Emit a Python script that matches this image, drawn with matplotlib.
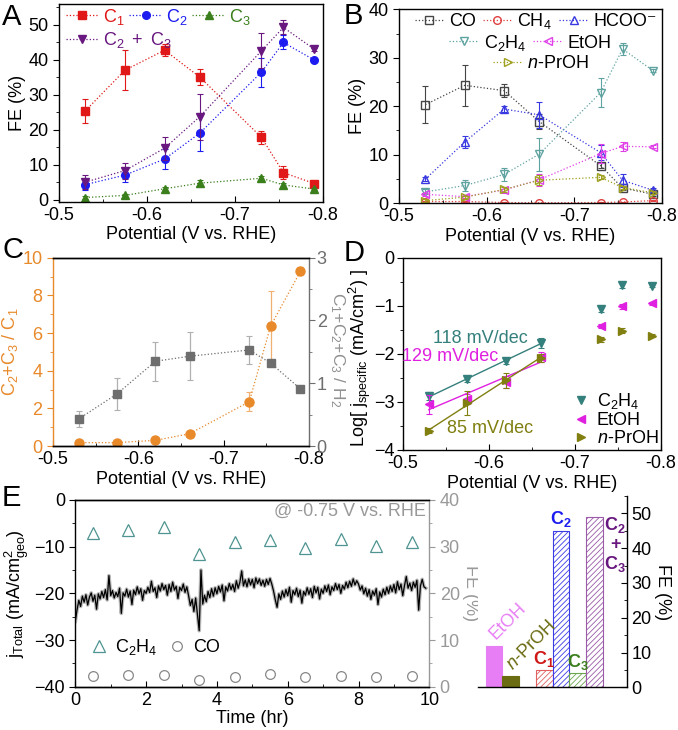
import numpy as np
import matplotlib
matplotlib.use("Agg")
import matplotlib.pyplot as plt
from matplotlib.ticker import MultipleLocator

plt.rcParams['font.family'] = ['Liberation Sans', 'DejaVu Sans']
plt.rcParams['mathtext.fontset'] = 'custom'
plt.rcParams['mathtext.rm'] = 'Liberation Sans'
plt.rcParams['mathtext.it'] = 'Liberation Sans:italic'
plt.rcParams['mathtext.bf'] = 'Liberation Sans:bold'
plt.rcParams['font.size'] = 13
plt.rcParams['xtick.direction'] = 'in'
plt.rcParams['ytick.direction'] = 'out'
plt.rcParams['xtick.major.size'] = 4
plt.rcParams['ytick.major.size'] = 4
plt.rcParams['xtick.minor.size'] = 2.5
plt.rcParams['ytick.minor.size'] = 2.5
plt.rcParams['hatch.linewidth'] = 0.6
plt.rcParams['axes.linewidth'] = 1.0

# ---- data ----
potential = [-0.53, -0.575, -0.62, -0.66, -0.73, -0.755, -0.79]

# panel A
fe_c1 = [25.5, 37.1, 42.8, 35.1, 17.9, 7.8, 4.7]
err_c1 = [3.4, 5.7, 1.8, 2.3, 1.9, 1.8, 0.4]
fe_c2 = [4.4, 7.1, 11.7, 19.1, 36.5, 45.0, 40.0]
err_c2 = [1.5, 2.0, 2.8, 5.2, 4.2, 2.0, 0.4]
fe_c3 = [0.7, 1.3, 3.2, 4.8, 6.2, 4.3, 3.1]
err_c3 = [0.4, 0.4, 0.6, 0.8, 0.7, 0.6, 0.3]
fe_c23 = [5.1, 8.4, 14.8, 23.8, 42.6, 49.3, 43.1]
err_c23 = [1.9, 2.3, 3.3, 6.6, 5.0, 2.0, 0.4]

# panel B
fe_co = [20.3, 24.3, 23.2, 16.8, 7.7, 3.1, 1.8]
err_co = [3.8, 4.3, 1.3, 1.5, 0.5, 0.4, 0.3]
fe_ch4 = [0.3, 0.3, 0.1, 0.05, 0.1, 0.2, 0.5]
err_ch4 = [0.1, 0.1, 0.05, 0.05, 0.05, 0.1, 0.1]
fe_hcoo = [4.9, 12.6, 19.4, 18.2, 10.4, 4.7, 2.6]
err_hcoo = [0.4, 1.2, 0.6, 2.7, 1.5, 1.3, 0.4]
fe_c2h4 = [2.3, 3.6, 5.9, 10.1, 22.8, 31.8, 27.3]
err_c2h4 = [0.5, 1.2, 1.3, 3.4, 3.0, 1.2, 0.3]
fe_etoh = [1.8, 1.3, 2.7, 4.8, 10.2, 11.7, 11.6]
err_etoh = [0.3, 0.4, 0.7, 1.2, 2.0, 1.0, 0.3]
fe_proh = [0.5, 1.2, 2.8, 4.7, 5.3, 3.2, 2.1]
err_proh = [0.3, 0.3, 0.6, 1.0, 0.4, 0.4, 0.3]

# panel C
ratio_c23_c1 = [0.18, 0.18, 0.3, 0.65, 2.35, 6.37, 9.28]
err_ratio_c23_c1 = [0.05, 0.05, 0.05, 0.1, 0.5, 1.85, 0.2]
ratio_c_h2 = [0.43, 0.83, 1.35, 1.43, 1.53, 1.32, 0.91]
err_ratio_c_h2 = [0.12, 0.26, 0.31, 0.38, 0.23, 0.05, 0.03]

# panel D
logj_c2h4 = [-2.88, -2.53, -2.15, -1.77, -1.07, -0.57, -0.58]
err_logj_c2h4 = [0.08, 0.05, 0.06, 0.1, 0.05, 0.05, 0.03]
logj_etoh = [-3.05, -2.94, -2.58, -2.06, -1.42, -1.01, -0.95]
err_logj_etoh = [0.2, 0.1, 0.12, 0.1, 0.05, 0.05, 0.03]
logj_proh = [-3.6, -3.03, -2.55, -2.08, -1.70, -1.52, -1.62]
err_logj_proh = [0.05, 0.25, 0.15, 0.08, 0.05, 0.05, 0.03]

# panel E: chronoamperometry at -0.75 V, sampled every 0.05 hr
dt_hr = 0.05
j_total = [
    -26.0, -23.5, -21.5, -22.8, -20.6, -21.9, -20.3, -22.5, -20.8, -19.9,
    -21.7, -20.4, -23.4, -20.1, -21.2, -19.6, -20.9, -19.2, -21.4, -16.2,
    -20.5, -19.4, -21.0, -19.8, -20.7, -18.9, -24.3, -19.9, -20.6, -19.1,
    -20.8, -19.5, -22.4, -19.3, -20.3, -18.6, -20.1, -19.0, -21.5, -19.4,
    -20.0, -18.7, -19.8, -17.4, -19.6, -18.8, -20.9, -18.4, -19.5, -17.9,
    -19.2, -18.3, -20.4, -18.1, -19.6, -17.6, -19.3, -18.5, -21.1, -18.7,
    -19.4, -18.0, -19.8, -18.6, -20.5, -22.6, -21.3, -23.9, -21.0, -24.6,
    -28.0, -15.0, -22.3, -20.4, -21.8, -19.6, -20.9, -19.0, -20.6, -18.8,
    -20.1, -18.5, -19.7, -18.2, -21.6, -18.6, -19.5, -17.9, -19.2, -18.1,
    -19.6, -17.3, -18.9, -17.6, -15.2, -18.4, -17.1, -18.6, -16.9, -18.2,
    -17.0, -18.8, -16.7, -17.9, -16.9, -18.3, -17.2, -18.5, -17.0, -18.1,
    -16.8, -18.0, -19.5, -21.4, -23.0, -20.1, -21.3, -19.5, -20.8, -19.2,
    -20.5, -18.7, -21.9, -19.4, -20.3, -18.9, -20.7, -19.3, -22.1, -19.6,
    -20.4, -18.8, -20.2, -19.0, -20.9, -18.5, -19.9, -18.7, -21.2, -19.1,
    -20.0, -18.4, -19.6, -18.2, -20.3, -18.6, -19.4, -17.9, -19.2, -18.1,
    -20.0, -18.3, -19.1, -17.6, -18.8, -17.4, -18.5, -16.9, -18.2, -17.3,
    -18.0, -19.3, -18.4, -20.1, -18.9, -20.6, -19.2, -21.3, -19.5, -20.4,
    -19.0, -22.4, -19.7, -20.8, -19.1, -20.3, -18.7, -20.0, -18.4, -19.6,
    -18.1, -19.9, -17.5, -19.2, -18.0, -20.5, -18.3, -16.4, -18.9, -17.8,
    -19.4, -17.6, -18.7, -17.2, -23.6, -18.4, -17.0, -18.6, -18.9,
]
time_points = [0.5, 1.5, 2.5, 3.5, 4.5, 5.5, 6.5, 7.5, 8.5, 9.5]
fe_c2h4_time = [33.0, 33.5, 34.2, 28.5, 31.0, 31.5, 29.7, 31.7, 30.2, 31.0]
fe_co_time = [2.2, 2.4, 2.6, 1.4, 2.0, 2.7, 2.0, 2.3, 2.0, 2.3]

# panel E bars at -0.75 V
bar_names = ["EtOH", "n-PrOH", "C1", "C2", "C3", "C2+C3"]
bar_fe = [11.9, 3.2, 5.1, 45.0, 4.0, 49.0]

# ---- colors ----
red = "#e01818"
blue = "#1c1cf0"
green = "#3b7f1c"
purple = "#68187f"
c_co = "#454545"
c_ch4 = "#e04040"
c_hcoo = "#3838e0"
c_c2h4 = "#5fa3a0"
c_etoh = "#e040e8"
c_proh = "#a0a020"
orange = "#e8892a"
gray = "#6e6e6e"
teal = "#34807c"
magenta = "#e020e0"
olive = "#807f10"

fig = plt.figure(figsize=(6.78, 7.3), dpi=100)


def frac(left, top, right, bottom):
    return [left / 678, 1 - bottom / 730, (right - left) / 678, (bottom - top) / 730]


def draw(ax, y, err, color, marker, label, filled=True, ms=5.5, ecolor=None):
    ax.errorbar(potential, y, yerr=err, fmt='none', ecolor=ecolor or color,
                elinewidth=0.8, capsize=2, capthick=0.8)
    line, = ax.plot(potential, y, ls=':', lw=0.9, color=color, marker=marker,
                    ms=ms, mfc=color if filled else 'none', mec=color,
                    mew=1.0, label=label)
    return line


def pot_axis(ax):
    ax.set_xlim(-0.5, -0.8)
    ax.xaxis.set_minor_locator(MultipleLocator(0.05))
    ax.set_xticks([-0.5, -0.6, -0.7, -0.8])
    ax.set_xticklabels(["-0.5", "-0.6", "-0.7", "-0.8"])
    ax.set_xlabel("Potential (V vs. RHE)", labelpad=2)


# ---- A ----
ax_a = fig.add_axes(frac(59, 4, 323, 201.7))
h1 = draw(ax_a, fe_c1, err_c1, red, 's', r"$\mathregular{C_1}$")
h2 = draw(ax_a, fe_c2, err_c2, blue, 'o', r"$\mathregular{C_2}$")
h3 = draw(ax_a, fe_c3, err_c3, green, '^', r"$\mathregular{C_3}$")
h4 = draw(ax_a, fe_c23, err_c23, purple, 'v', r"$\mathregular{C_2\ +\ C_3}$")
pot_axis(ax_a)
ax_a.set_ylim(-0.5, 56)
ax_a.yaxis.set_major_locator(MultipleLocator(10))
ax_a.yaxis.set_minor_locator(MultipleLocator(5))
ax_a.set_ylabel("FE (%)", labelpad=2)
leg_a = dict(frameon=False, labelcolor='linecolor', handlelength=1.8,
             handletextpad=0.25, columnspacing=0.25, borderaxespad=0.0,
             loc='center left')
la1 = ax_a.legend([h1, h2, h3], [h.get_label() for h in [h1, h2, h3]], ncol=3,
                  bbox_to_anchor=(0.0, 0.936), **leg_a)
ax_a.add_artist(la1)
ax_a.legend([h4], [h4.get_label()], bbox_to_anchor=(0.0, 0.818), **leg_a)

# ---- B ----
ax_b = fig.add_axes(frac(399, 9.3, 662, 203))
b1 = draw(ax_b, fe_co, err_co, c_co, 's', "CO", filled=False)
b2 = draw(ax_b, fe_ch4, err_ch4, c_ch4, 'o', r"$\mathregular{CH_4}$", filled=False)
b3 = draw(ax_b, fe_hcoo, err_hcoo, c_hcoo, '^', "HCOO\u207b", filled=False)
b4 = draw(ax_b, fe_c2h4, err_c2h4, c_c2h4, 'v', r"$\mathregular{C_2H_4}$", filled=False)
b5 = draw(ax_b, fe_etoh, err_etoh, c_etoh, '<', "EtOH", filled=False)
b6 = draw(ax_b, fe_proh, err_proh, c_proh, '>', r"$n$-PrOH", filled=False)
pot_axis(ax_b)
ax_b.set_ylim(0, 40)
ax_b.yaxis.set_major_locator(MultipleLocator(10))
ax_b.yaxis.set_minor_locator(MultipleLocator(5))
ax_b.set_ylabel("FE (%)", labelpad=2)
leg_kw = dict(frameon=False, handlelength=1.6, handletextpad=0.3,
              columnspacing=0.4, borderaxespad=0.0, loc='center')
lg1 = ax_b.legend([b1, b2, b3], ["CO", r"$\mathregular{CH_4}$", "HCOO\u207b"],
                  ncol=3, bbox_to_anchor=(0.52, 0.94), **leg_kw)
ax_b.add_artist(lg1)
lg2 = ax_b.legend([b4, b5], [r"$\mathregular{C_2H_4}$", "EtOH"],
                  ncol=2, bbox_to_anchor=(0.5, 0.827), **leg_kw)
ax_b.add_artist(lg2)
ax_b.legend([b6], [r"$n$-PrOH"], ncol=1, bbox_to_anchor=(0.54, 0.718), **leg_kw)

# ---- C ----
ax_c = fig.add_axes(frac(53, 257.7, 309, 446))
ax_c2 = ax_c.twinx()
ax_c.errorbar(potential, ratio_c23_c1, yerr=err_ratio_c23_c1, fmt='none',
              ecolor="#f0b070", elinewidth=0.9, capsize=2, capthick=0.8)
ax_c.plot(potential, ratio_c23_c1, ls=':', lw=0.9, color=orange, marker='o', ms=6.5)
ax_c2.errorbar(potential, ratio_c_h2, yerr=err_ratio_c_h2, fmt='none',
               ecolor="#b0b0b0", elinewidth=0.9, capsize=2, capthick=0.8)
ax_c2.plot(potential, ratio_c_h2, ls=':', lw=0.9, color=gray, marker='s', ms=6)
pot_axis(ax_c)
ax_c.set_ylim(0, 10)
ax_c.yaxis.set_major_locator(MultipleLocator(2))
ax_c.yaxis.set_minor_locator(MultipleLocator(1))
ax_c2.set_ylim(0, 3)
ax_c2.yaxis.set_major_locator(MultipleLocator(1))
ax_c2.yaxis.set_minor_locator(MultipleLocator(0.5))
ax_c.spines['left'].set_color(orange)
ax_c.tick_params(axis='y', colors=orange, which='both')
ax_c.set_ylabel(r"$\mathregular{C_2{+}C_3\ /\ C_1}$", color=orange, labelpad=2)
ax_c2.spines['left'].set_visible(False)
ax_c2.spines['right'].set_color(gray)
ax_c.spines['right'].set_visible(False)
ax_c2.tick_params(axis='y', colors=gray, which='both', pad=1.5)
fig.text(337 / 678, 1 - 350 / 730, r"$\mathregular{C_1{+}C_2{+}C_3\ /\ H_2}$",
         color="#909090", rotation=270, ha='center', va='center', fontsize=12.5)

# ---- D ----
ax_d = fig.add_axes(frac(403, 257.7, 661, 450))
d_sets = [
    (logj_c2h4, err_logj_c2h4, teal, 'v', r"$\mathregular{C_2H_4}$"),
    (logj_etoh, err_logj_etoh, magenta, '<', "EtOH"),
    (logj_proh, err_logj_proh, olive, '>', r"$n$-PrOH"),
]
d_handles = []
for y, err, color, marker, label in d_sets:
    ax_d.errorbar(potential, y, yerr=err, fmt='none', ecolor=color,
                  elinewidth=0.8, capsize=2, capthick=0.8)
    h, = ax_d.plot(potential, y, ls='none', marker=marker, color=color, ms=5.5, label=label)
    d_handles.append(h)
    fit = np.polyfit(potential[:4], y[:4], 1)
    xs = np.array([potential[0], potential[3]])
    ax_d.plot(xs, np.polyval(fit, xs), color=color, lw=1.0)
pot_axis(ax_d)
ax_d.set_ylim(-4, 0)
ax_d.yaxis.set_major_locator(MultipleLocator(1))
ax_d.yaxis.set_minor_locator(MultipleLocator(0.5))
ax_d.tick_params(axis='y', pad=2)
fig.text(360 / 678, 1 - 358 / 730,
         r"Log[ j$_{\mathregular{specific}}$ (mA/cm$^{\mathregular{2}}$) ]",
         rotation=90, ha='center', va='center')
ax_d.text(-0.5895, -1.68, "118 mV/dec", color=teal, ha='center', va='center')
ax_d.text(-0.5547, -2.06, "129 mV/dec", color=magenta, ha='center', va='center')
ax_d.text(-0.601, -3.55, "85 mV/dec", color=olive, ha='center', va='center')
ax_d.legend(d_handles, [h.get_label() for h in d_handles], loc='lower right',
            frameon=False, handletextpad=0.4, handlelength=1.0, labelspacing=0.05,
            borderaxespad=0.05, borderpad=0.1)

# ---- E ----
ax_e = fig.add_axes(frac(75.3, 500, 429.3, 686.7))
time_hr = np.arange(len(j_total)) * dt_hr
ax_e.plot(time_hr, j_total, color="#b8b8b8", lw=2.6)
ax_e.plot(time_hr, j_total, color="black", lw=0.9)
ax_e.set_xlim(0, 10)
ax_e.set_ylim(-40, 0)
ax_e.xaxis.set_major_locator(MultipleLocator(2))
ax_e.xaxis.set_minor_locator(MultipleLocator(1))
ax_e.yaxis.set_major_locator(MultipleLocator(10))
ax_e.yaxis.set_minor_locator(MultipleLocator(5))
ax_e.set_xlabel("Time (hr)", labelpad=1)
ax_e.set_ylabel(r"j$_{\mathregular{Total}}$ (mA/cm$^{\mathregular{2}}_{\mathregular{geo}}$)", labelpad=2)
ax_e2 = ax_e.twinx()
e1, = ax_e2.plot(time_points, fe_c2h4_time, ls='none', marker='^', ms=8,
                 mfc='none', mec="#4f9490", mew=0.9)
e2, = ax_e2.plot(time_points, fe_co_time, ls='none', marker='o', ms=7,
                 mfc='none', mec="#888888", mew=0.9)
ax_e2.set_ylim(0, 40)
ax_e2.yaxis.set_major_locator(MultipleLocator(10))
ax_e2.yaxis.set_minor_locator(MultipleLocator(5))
ax_e2.spines['right'].set_color("#999999")
ax_e2.spines['left'].set_visible(False)
ax_e.spines['right'].set_visible(False)
ax_e2.tick_params(axis='y', colors="#999999", which='both')
ax_e2.set_ylabel("FE (%)", color="#999999", rotation=270, labelpad=14)
ax_e2.text(0.99, 0.94, "@ -0.75 V vs. RHE", transform=ax_e2.transAxes,
           color="#999999", ha='right', va='center')
ax_e2.legend([e1, e2], [r"$\mathregular{C_2H_4}$", "CO"], ncol=2, loc='center left',
             bbox_to_anchor=(0.02, 0.21), frameon=False, handletextpad=0.4,
             columnspacing=0.6, handlelength=1.0, borderaxespad=0.0)

# ---- E bars ----
ax_f = fig.add_axes(frac(478, 496, 626.7, 687.3))
bar_pos = [0, 1, 3, 4, 5, 6]
bar_edge = ["#e87ef5", "#6b6b12", "#e06060", "#3c3ce6", "#6aa64c", "#9a5aa8"]
bar_face = ["#e87ef5", "#6b6b12", "white", "white", "white", "white"]
bar_hatch = [None, None, "//////", "//////", "//////", "//////"]
for x, v, ec, fc, hat in zip(bar_pos, bar_fe, bar_edge, bar_face, bar_hatch):
    ax_f.bar(x, v, width=1.0, color=fc, edgecolor=ec, hatch=hat, lw=0.8)
ax_f.set_xlim(-0.96, 7.94)
ax_f.set_ylim(0, 55)
ax_f.set_xticks([])
ax_f.spines['left'].set_visible(False)
ax_f.spines['top'].set_visible(False)
ax_f.yaxis.tick_right()
ax_f.yaxis.set_label_position('right')
ax_f.tick_params(axis='y', direction='in', which='both')
ax_f.yaxis.set_major_locator(MultipleLocator(10))
ax_f.yaxis.set_minor_locator(MultipleLocator(5))
ax_f.set_ylabel("FE (%)", rotation=270, labelpad=14)
ax_f.text(-0.45, bar_fe[0] + 0.8, "EtOH", color="#e87ef5", rotation=45, ha='left', va='bottom')
ax_f.text(0.55, bar_fe[1] + 0.8, r"$n$-PrOH", color="#6b6b12", rotation=45, ha='left', va='bottom')
ax_f.text(3, bar_fe[2] + 0.3, r"$\mathbf{C_1}$", color="#d01818", ha='center', va='bottom')
ax_f.text(4, bar_fe[3] + 0.5, r"$\mathbf{C_2}$", color="#1c1cf0", ha='center', va='bottom')
ax_f.text(5, bar_fe[4] + 0.3, r"$\mathbf{C_3}$", color="#3b7f1c", ha='center', va='bottom')
ax_f.text(7.24, 41, r"$\mathbf{C_2}$" + "\n+\n" + r"$\mathbf{C_3}$", color=purple,
          ha='center', va='center', fontweight='bold', linespacing=1.05)

# panel letters
for letter, x, y in [("A", 2, 3), ("B", 344, 2), ("C", 2, 236), ("D", 344, 239), ("E", 2, 484)]:
    fig.text(x / 678, 1 - y / 730, letter, fontsize=21, ha='left', va='top')

fig.savefig("out.png", dpi=100)
